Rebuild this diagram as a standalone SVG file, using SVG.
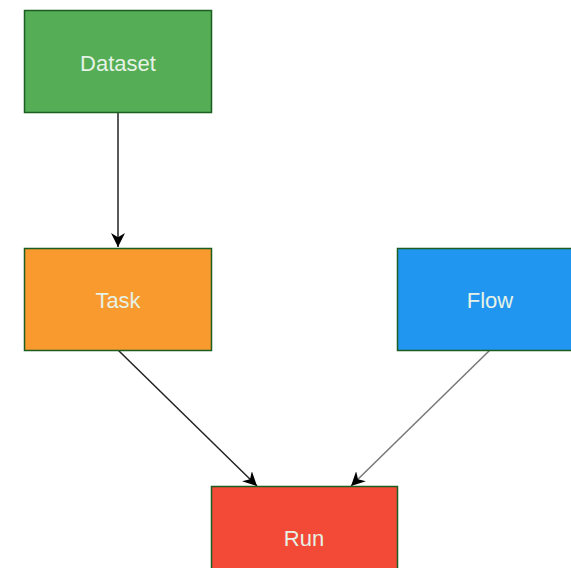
<svg xmlns="http://www.w3.org/2000/svg" width="571" height="568" viewBox="0 0 571 568">
<style>
.box{stroke:#1b5e20;stroke-width:1.5}
.lbl{font-family:"Liberation Sans",Arial,sans-serif;font-size:22px;fill:#e6f2e6;text-anchor:middle;dominant-baseline:central}
.edge{fill:none;stroke-width:1.5}
</style>
<defs>
<marker id="arr" viewBox="0 0 10 10" refX="10" refY="5" markerWidth="14" markerHeight="14" markerUnits="userSpaceOnUse" orient="auto">
<path d="M0,0 L10,5 L0,10 L3,5 z" fill="#000"/>
</marker>
</defs>
<rect width="571" height="568" fill="#fff"/>
<g id="connectors">
<line class="edge" x1="118" y1="112" x2="118" y2="247" stroke="#222" marker-end="url(#arr)"/>
<line class="edge" x1="118" y1="350" x2="257" y2="486" stroke="#222" marker-end="url(#arr)"/>
<line class="edge" x1="490" y1="350" x2="351" y2="486" stroke="#777" marker-end="url(#arr)"/>
</g>
<g id="dataset">
<rect class="box" x="24.5" y="10.5" width="187" height="102" fill="#55ad55"/>
<text class="lbl" x="118" y="63">Dataset</text>
</g>
<g id="task">
<rect class="box" x="24.5" y="248.5" width="187" height="102" fill="#f89a2e"/>
<text class="lbl" x="118" y="300">Task</text>
</g>
<g id="flow">
<rect class="box" x="397.5" y="248.5" width="187" height="102" fill="#2196f0"/>
<text class="lbl" x="490" y="300">Flow</text>
</g>
<g id="run">
<rect class="box" x="211.5" y="486.5" width="186" height="102" fill="#f34a37"/>
<text class="lbl" x="304" y="538">Run</text>
</g>
</svg>
